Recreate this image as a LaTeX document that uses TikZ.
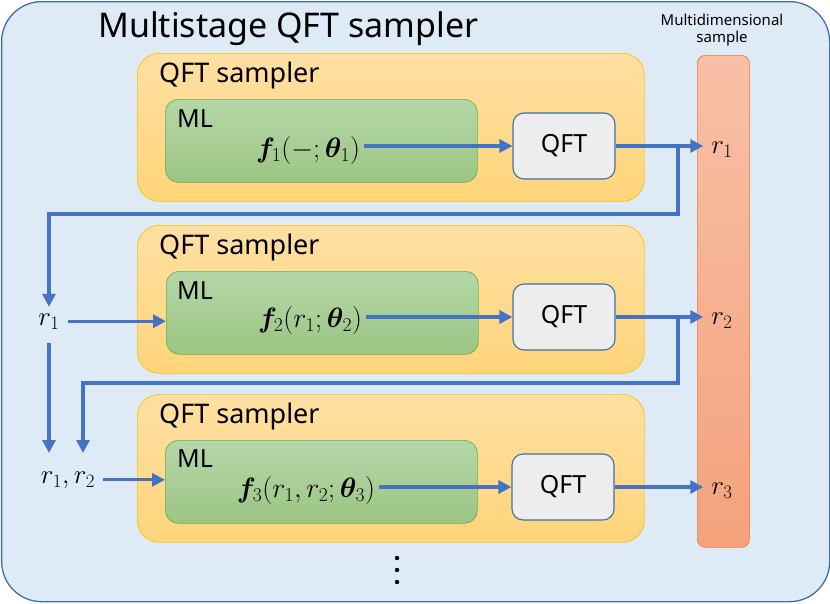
\documentclass[tikz,border=0pt]{standalone}
\usepackage{fix-cm}
\usepackage{amsmath,bm}
\usepackage{fontspec}
\setmainfont{Noto Sans}
\usetikzlibrary{arrows.meta}
\definecolor{outerfill}{HTML}{DEEBF7}
\definecolor{outerline}{HTML}{41719C}
\definecolor{ytop}{HTML}{FFE0A3}
\definecolor{ybot}{HTML}{FFD47A}
\definecolor{yline}{HTML}{FFC000}
\definecolor{gtop}{HTML}{B5D7A8}
\definecolor{gbot}{HTML}{9CC584}
\definecolor{gline}{HTML}{70AD47}
\definecolor{qfill}{HTML}{EDEDED}
\definecolor{qline}{HTML}{41719C}
\definecolor{ptop}{HTML}{F8C0A7}
\definecolor{pbot}{HTML}{F4A27C}
\definecolor{pline}{HTML}{ED7D31}
\definecolor{arrblue}{HTML}{4472C4}
\tikzset{
  outerbox/.style={draw=outerline, line width=1.3pt, fill=outerfill, rounded corners=40pt},
  sampbox/.style={draw=yline, line width=0.7pt, top color=ytop, bottom color=ybot, rounded corners=22pt,
    anchor=north west, inner sep=0pt, minimum width=507pt, minimum height=148pt},
  mlbox/.style={draw=gline, line width=0.7pt, top color=gtop, bottom color=gbot, rounded corners=13pt,
    anchor=north west, inner sep=0pt, minimum width=312pt, minimum height=83pt},
  qftbox/.style={draw=qline, line width=1.1pt, fill=qfill, rounded corners=11pt,
    inner sep=0pt, minimum width=102pt, minimum height=66pt, font=\fontsize{25}{30}\selectfont},
  barbox/.style={draw=pline, line width=0.7pt, top color=ptop, bottom color=pbot, rounded corners=8pt,
    anchor=north west, inner sep=0pt, minimum width=52pt, minimum height=492pt},
  samplabel/.style={anchor=base west, inner sep=0pt, font=\fontsize{27}{32}\selectfont},
  mllabel/.style={anchor=base west, inner sep=0pt, font=\fontsize{25}{30}\selectfont},
  ftext/.style={inner sep=4pt, font=\fontsize{28}{32}\selectfont},
  rlab/.style={anchor=base, inner xsep=8pt, inner ysep=2pt, font=\fontsize{27}{32}\selectfont},
  leftlab/.style={anchor=base, inner xsep=8pt, inner ysep=6.4pt, font=\fontsize{27}{32}\selectfont},
  arr/.style={draw=arrblue, line width=3.2pt, -{Triangle[length=13pt,width=13pt]}},
}
\begin{document}
\begin{tikzpicture}[x=1pt,y=-1pt]
\useasboundingbox (0,0) rectangle (830,603);
% outer box
\node[outerbox, anchor=north west, inner sep=0pt, minimum width=828pt, minimum height=600pt] (outer) at (1,1) {};
\node[anchor=base west, inner sep=0pt, font=\fontsize{34}{40}\selectfont] (title) at (98,37) {Multistage QFT sampler};
% multidimensional sample bar
\node[barbox] (bar) at (697,55) {};
\node[align=center, inner sep=0pt, font=\fontsize{15}{17}\selectfont] (bartitle) at (722,30) {Multidimensional\\sample};
% stage 1
\node[sampbox] (s1) at (137,53) {};
\node[samplabel] (s1t) at (159,82) {QFT sampler};
\node[mlbox] (m1) at (165,99) {};
\node[mllabel] (m1t) at (177,127) {ML};
\node[ftext] (f1) at (308,150) {$\bm{f}_1(-;\bm{\theta}_1)$};
\node[qftbox] (q1) at (564,146) {QFT};
\node[rlab] (r1o) at (722,153) {$r_1$};
% stage 2
\node[sampbox] (s2) at (137,225) {};
\node[samplabel] (s2t) at (159,254) {QFT sampler};
\node[mlbox] (m2) at (166,271) {};
\node[mllabel] (m2t) at (177,299) {ML};
\node[ftext] (f2) at (310,320) {$\bm{f}_2(r_1;\bm{\theta}_2)$};
\node[qftbox] (q2) at (564,317) {QFT};
\node[rlab] (r2o) at (722,324) {$r_2$};
% stage 3
\node[sampbox] (s3) at (137,394) {};
\node[samplabel] (s3t) at (159,423) {QFT sampler};
\node[mlbox] (m3) at (165,440) {};
\node[mllabel] (m3t) at (177,467) {ML};
\node[ftext] (f3) at (306,490) {$\bm{f}_3(r_1,r_2;\bm{\theta}_3)$};
\node[qftbox] (q3) at (563,487) {QFT};
\node[rlab] (r3o) at (722,494) {$r_3$};
% left inputs
\node[leftlab] (l1) at (49,325) {$r_1$};
\node[leftlab] (l12) at (68,483) {$r_1,r_2$};
% connectors
\draw[arr] (f1.east |- q1.west) -- (q1.west);
\draw[arr] (f2.east |- q2.west) -- (q2.west);
\draw[arr] (f3.east |- q3.west) -- (q3.west);
\draw[arr] (q1.east) -- (q1.east -| r1o.west);
\draw[arr] (q2.east) -- (q2.east -| r2o.west);
\draw[arr] (q3.east) -- (q3.east -| r3o.west);
\coordinate (j1) at (678,146);
\coordinate (k1) at (678,214);
\coordinate (j2) at (678,317);
\coordinate (k2) at (678,383);
\coordinate (e1) at (49,453);
\coordinate (e2) at (83,453);
\draw[arr] (j1) -- (k1) -| (l1.north);
\draw[arr, shorten <=7pt] (l1.south) -- (e1);
\draw[arr] (j2) -- (k2) -| (e2);
\draw[arr] (l1.east) -- (l1.east -| m2.west);
\draw[arr] (l12.east) -- (l12.east -| m3.west);
% continuation dots
\fill (397,558) circle (2.2pt);
\fill (397,570) circle (2.2pt);
\fill (397,582) circle (2.2pt);
\end{tikzpicture}
\end{document}
